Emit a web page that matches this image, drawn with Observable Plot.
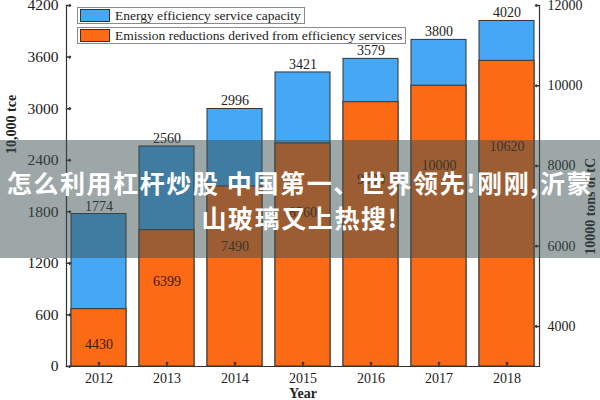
<!DOCTYPE html>
<html><head><meta charset="utf-8">
<script src="https://cdn.jsdelivr.net/npm/d3@7"></script>
<script src="https://cdn.jsdelivr.net/npm/@observablehq/plot@0.6"></script>
<style>
body{margin:0;background:#fff;}
#wrap{position:relative;width:600px;height:400px;overflow:hidden;font-family:"Liberation Serif",serif;}
.leg{position:absolute;left:77px;height:17px;border:1px solid #8a8a8a;background:#fff;display:flex;align-items:center;font-size:13.5px;color:#222;padding-right:3px;box-sizing:border-box;}
.sw{width:30px;height:13px;border:1px solid #333;margin:0 5px 0 2px;box-sizing:border-box;}
#banner{position:absolute;left:0;top:140px;width:600px;height:118px;background:rgba(60,80,80,0.5);color:#fff;font-family:"Noto Sans CJK SC",sans-serif;font-weight:bold;font-size:25px;text-align:center;line-height:35px;padding-top:25px;box-sizing:border-box;letter-spacing:1.6px;white-space:nowrap;}
</style></head>
<body><div id="wrap"></div>
<script>
const years = ["2012","2013","2014","2015","2016","2017","2018"];
const capacity = [1774, 2560, 2996, 3421, 3579, 3800, 4020];
const reductions = [4430, 6399, 7490, 8560, 9590, 10000, 10620];
const leftTicks = [0, 600, 1200, 1800, 2400, 3000, 3600, 4200];
const rightTicks = [4000, 6000, 8000, 10000, 12000];
const seriesNames = ["Energy efficiency service capacity", "Emission reductions derived from efficiency services"];
const colors = ["#44A8F4", "#FD6A15"];

const L = [0, 4200], R = [3000, 12000];
const toLeft = v => L[0] + (v - R[0]) / (R[1] - R[0]) * (L[1] - L[0]);
const toRight = d => R[0] + (d - L[0]) / (L[1] - L[0]) * (R[1] - R[0]);

const data = years.map((y, i) => ({year: y, cap: capacity[i], red: reductions[i]}));

const chart = Plot.plot({
  width: 600, height: 400,
  marginLeft: 66, marginRight: 61, marginTop: 5, marginBottom: 34,
  style: {fontFamily: "Liberation Serif", fontSize: "13.5px", color: "#222", background: "transparent"},
  x: {domain: years, paddingInner: 0.19, paddingOuter: 0.07, label: null},
  y: {domain: L, label: null},
  marks: [
    Plot.barY(data, {x: "year", y: "cap", fill: colors[0], stroke: "#333", strokeWidth: 1}),
    Plot.barY(data, {x: "year", y1: 0, y2: d => toLeft(d.red), fill: colors[1], stroke: "#333", strokeWidth: 1}),
    Plot.text(data, {x: "year", y: "cap", text: d => String(d.cap), dy: -8, fill: "#222", fontSize: 14}),
    Plot.text(data, {x: "year", y: d => toLeft(d.red * 0.8), text: d => String(d.red), fill: "#3a1a08", fontSize: 14}),
    Plot.axisY({ticks: leftTicks, anchor: "left", tickSize: 0, tickPadding: 8, tickFormat: d => String(d), fontSize: 15.5, label: null}),
    Plot.axisY({ticks: rightTicks.map(toLeft), anchor: "right", tickSize: 0, tickPadding: 8, tickFormat: d => String(Math.round(toRight(d))), fontSize: 14, label: null}),
    Plot.axisX({tickSize: 0, tickPadding: 7, fontSize: 14, label: null}),
    Plot.vector(leftTicks, {y: d => d, frameAnchor: "left", rotate: 90, length: 4, anchor: "start", stroke: "#333"}),
    Plot.vector(rightTicks.map(toLeft), {y: d => d, frameAnchor: "right", rotate: -90, length: 4, anchor: "start", stroke: "#333"}),
    Plot.vector(years, {x: d => d, frameAnchor: "bottom", rotate: 0, length: 4, anchor: "start", stroke: "#333"}),
    Plot.frame({anchor: "left", stroke: "#333", strokeWidth: 1.2}),
    Plot.frame({anchor: "right", stroke: "#333", strokeWidth: 1.2}),
    Plot.frame({anchor: "bottom", stroke: "#333", strokeWidth: 1.2}),
    Plot.text(["10,000 tce"], {frameAnchor: "left", dx: -55, dy: -32, rotate: -90, fontWeight: "bold", fontSize: 14, fill: "#222"}),
    Plot.text(["10000 tons of tC"], {frameAnchor: "right", dx: 51, dy: -28, rotate: -90, fontWeight: "bold", fontSize: 14, fill: "#222"}),
    Plot.text(["Year"], {frameAnchor: "bottom", dy: 31, fontWeight: "bold", fontSize: 14, fill: "#222"})
  ]
});
const wrap = document.getElementById("wrap");
wrap.appendChild(chart);
chart.style.position = "absolute"; chart.style.left = "0"; chart.style.top = "0";

seriesNames.forEach((name, i) => {
  const d = document.createElement("div");
  d.className = "leg";
  d.style.top = (7 + i * 20) + "px";
  const s = document.createElement("div");
  s.className = "sw"; s.style.background = colors[i];
  d.appendChild(s);
  d.appendChild(document.createTextNode(name));
  wrap.appendChild(d);
});

const b = document.createElement("div");
b.id = "banner";
b.innerHTML = "怎么利用杠杆炒股 中国第一、世界领先!刚刚,沂蒙<br>山玻璃又上热搜!";
wrap.appendChild(b);
</script>
</body></html>
